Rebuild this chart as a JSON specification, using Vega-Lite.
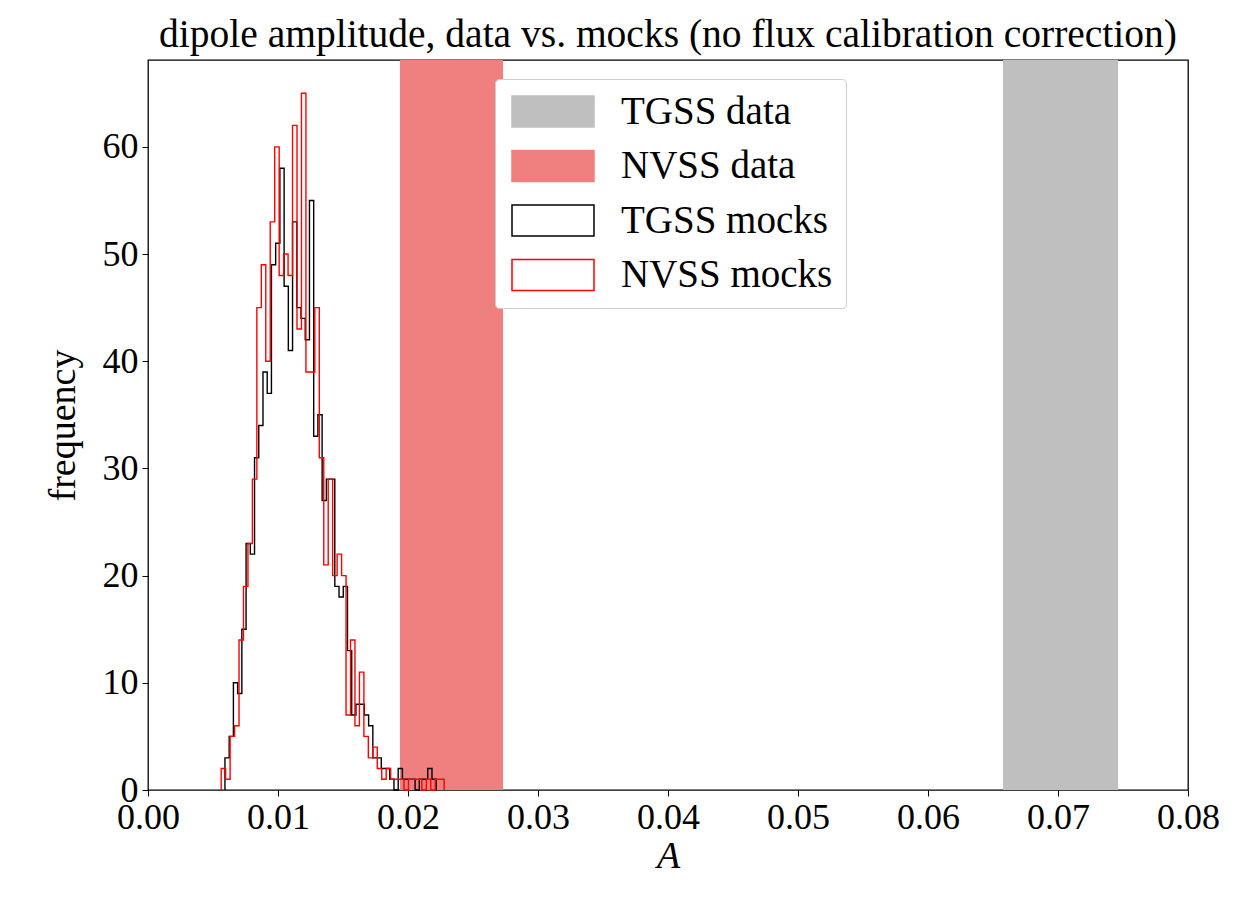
{
  "$schema": "https://vega.github.io/schema/vega-lite/v6.json",
  "width": 1040,
  "height": 730,
  "autosize": {"type": "none"},
  "padding": {"left": 148, "top": 60, "right": 55, "bottom": 111},
  "background": "white",
  "title": {"text": "dipole amplitude, data vs. mocks (no flux calibration correction)", "font": "Liberation Serif", "fontSize": 39.5, "fontWeight": "normal", "color": "black", "offset": 5, "anchor": "middle"},
  "config": {
    "view": {"stroke": "#000000", "strokeWidth": 1.3},
    "axis": {"labelFont": "Liberation Serif", "labelFontSize": 36, "labelColor": "black", "tickColor": "black", "tickSize": 6, "tickWidth": 1, "domain": false, "grid": false, "titleFont": "Liberation Serif", "titleFontSize": 38, "titleFontWeight": "normal", "titleColor": "black", "labelPadding": 4, "labelFlush": false, "labelOverlap": false},
    "legend": {
      "title": null, "orient": "none", "legendX": 347, "legendY": 19,
      "symbolType": "M-1,-1H4.29V1H-1Z", "symbolSize": 961, "symbolStrokeWidth": 1.5,
      "labelFont": "Liberation Serif", "labelFontSize": 39, "labelColor": "black", "labelOffset": 74, "labelLimit": 400,
      "rowPadding": 14.5, "padding": 13, "fillColor": "white", "strokeColor": "#cccccc", "cornerRadius": 4
    }
  },
  "datasets": {
    "bands": [
      {"label": "NVSS data", "lo": 0.01938, "hi": 0.02731},
      {"label": "TGSS data", "lo": 0.06577, "hi": 0.07462}
    ],
    "mocks": [
      {"series": "NVSS mocks", "k": 0, "A": 0.005630, "n": 0},
      {"series": "NVSS mocks", "k": 1, "A": 0.005630, "n": 2},
      {"series": "NVSS mocks", "k": 2, "A": 0.005973, "n": 1},
      {"series": "NVSS mocks", "k": 3, "A": 0.006316, "n": 5},
      {"series": "NVSS mocks", "k": 4, "A": 0.006659, "n": 6},
      {"series": "NVSS mocks", "k": 5, "A": 0.007002, "n": 14},
      {"series": "NVSS mocks", "k": 6, "A": 0.007345, "n": 19},
      {"series": "NVSS mocks", "k": 7, "A": 0.007688, "n": 23},
      {"series": "NVSS mocks", "k": 8, "A": 0.008031, "n": 29},
      {"series": "NVSS mocks", "k": 9, "A": 0.008374, "n": 45},
      {"series": "NVSS mocks", "k": 10, "A": 0.008717, "n": 49},
      {"series": "NVSS mocks", "k": 11, "A": 0.009060, "n": 40},
      {"series": "NVSS mocks", "k": 12, "A": 0.009403, "n": 53},
      {"series": "NVSS mocks", "k": 13, "A": 0.009746, "n": 60},
      {"series": "NVSS mocks", "k": 14, "A": 0.010089, "n": 48},
      {"series": "NVSS mocks", "k": 15, "A": 0.010432, "n": 50},
      {"series": "NVSS mocks", "k": 16, "A": 0.010775, "n": 48},
      {"series": "NVSS mocks", "k": 17, "A": 0.011118, "n": 62},
      {"series": "NVSS mocks", "k": 18, "A": 0.011461, "n": 43},
      {"series": "NVSS mocks", "k": 19, "A": 0.011804, "n": 65},
      {"series": "NVSS mocks", "k": 20, "A": 0.012147, "n": 39},
      {"series": "NVSS mocks", "k": 21, "A": 0.012490, "n": 39},
      {"series": "NVSS mocks", "k": 22, "A": 0.012833, "n": 45},
      {"series": "NVSS mocks", "k": 23, "A": 0.013176, "n": 31},
      {"series": "NVSS mocks", "k": 24, "A": 0.013519, "n": 21},
      {"series": "NVSS mocks", "k": 25, "A": 0.013862, "n": 29},
      {"series": "NVSS mocks", "k": 26, "A": 0.014205, "n": 20},
      {"series": "NVSS mocks", "k": 27, "A": 0.014548, "n": 22},
      {"series": "NVSS mocks", "k": 28, "A": 0.014891, "n": 20},
      {"series": "NVSS mocks", "k": 29, "A": 0.015234, "n": 7},
      {"series": "NVSS mocks", "k": 30, "A": 0.015577, "n": 14},
      {"series": "NVSS mocks", "k": 31, "A": 0.015920, "n": 6},
      {"series": "NVSS mocks", "k": 32, "A": 0.016263, "n": 11},
      {"series": "NVSS mocks", "k": 33, "A": 0.016606, "n": 5},
      {"series": "NVSS mocks", "k": 34, "A": 0.016949, "n": 3},
      {"series": "NVSS mocks", "k": 35, "A": 0.017292, "n": 4},
      {"series": "NVSS mocks", "k": 36, "A": 0.017635, "n": 2},
      {"series": "NVSS mocks", "k": 37, "A": 0.017978, "n": 1},
      {"series": "NVSS mocks", "k": 38, "A": 0.018321, "n": 2},
      {"series": "NVSS mocks", "k": 39, "A": 0.018664, "n": 1},
      {"series": "NVSS mocks", "k": 40, "A": 0.019007, "n": 1},
      {"series": "NVSS mocks", "k": 41, "A": 0.019350, "n": 1},
      {"series": "NVSS mocks", "k": 42, "A": 0.019693, "n": 0},
      {"series": "NVSS mocks", "k": 43, "A": 0.020036, "n": 1},
      {"series": "NVSS mocks", "k": 44, "A": 0.020379, "n": 1},
      {"series": "NVSS mocks", "k": 45, "A": 0.020722, "n": 1},
      {"series": "NVSS mocks", "k": 46, "A": 0.021065, "n": 0},
      {"series": "NVSS mocks", "k": 47, "A": 0.021408, "n": 1},
      {"series": "NVSS mocks", "k": 48, "A": 0.021751, "n": 0},
      {"series": "NVSS mocks", "k": 49, "A": 0.022094, "n": 1},
      {"series": "NVSS mocks", "k": 50, "A": 0.022437, "n": 1},
      {"series": "NVSS mocks", "k": 51, "A": 0.022780, "n": 0},
      {"series": "TGSS mocks", "k": 0, "A": 0.005920, "n": 0},
      {"series": "TGSS mocks", "k": 1, "A": 0.005920, "n": 3},
      {"series": "TGSS mocks", "k": 2, "A": 0.006245, "n": 5},
      {"series": "TGSS mocks", "k": 3, "A": 0.006570, "n": 10},
      {"series": "TGSS mocks", "k": 4, "A": 0.006895, "n": 9},
      {"series": "TGSS mocks", "k": 5, "A": 0.007220, "n": 15},
      {"series": "TGSS mocks", "k": 6, "A": 0.007545, "n": 23},
      {"series": "TGSS mocks", "k": 7, "A": 0.007870, "n": 22},
      {"series": "TGSS mocks", "k": 8, "A": 0.008195, "n": 31},
      {"series": "TGSS mocks", "k": 9, "A": 0.008520, "n": 34},
      {"series": "TGSS mocks", "k": 10, "A": 0.008845, "n": 39},
      {"series": "TGSS mocks", "k": 11, "A": 0.009170, "n": 37},
      {"series": "TGSS mocks", "k": 12, "A": 0.009495, "n": 49},
      {"series": "TGSS mocks", "k": 13, "A": 0.009820, "n": 51},
      {"series": "TGSS mocks", "k": 14, "A": 0.010145, "n": 58},
      {"series": "TGSS mocks", "k": 15, "A": 0.010470, "n": 47},
      {"series": "TGSS mocks", "k": 16, "A": 0.010795, "n": 41},
      {"series": "TGSS mocks", "k": 17, "A": 0.011120, "n": 53},
      {"series": "TGSS mocks", "k": 18, "A": 0.011445, "n": 45},
      {"series": "TGSS mocks", "k": 19, "A": 0.011770, "n": 44},
      {"series": "TGSS mocks", "k": 20, "A": 0.012095, "n": 42},
      {"series": "TGSS mocks", "k": 21, "A": 0.012420, "n": 55},
      {"series": "TGSS mocks", "k": 22, "A": 0.012745, "n": 33},
      {"series": "TGSS mocks", "k": 23, "A": 0.013070, "n": 35},
      {"series": "TGSS mocks", "k": 24, "A": 0.013395, "n": 27},
      {"series": "TGSS mocks", "k": 25, "A": 0.013720, "n": 29},
      {"series": "TGSS mocks", "k": 26, "A": 0.014045, "n": 29},
      {"series": "TGSS mocks", "k": 27, "A": 0.014370, "n": 19},
      {"series": "TGSS mocks", "k": 28, "A": 0.014695, "n": 18},
      {"series": "TGSS mocks", "k": 29, "A": 0.015020, "n": 19},
      {"series": "TGSS mocks", "k": 30, "A": 0.015345, "n": 13},
      {"series": "TGSS mocks", "k": 31, "A": 0.015670, "n": 7},
      {"series": "TGSS mocks", "k": 32, "A": 0.015995, "n": 8},
      {"series": "TGSS mocks", "k": 33, "A": 0.016320, "n": 8},
      {"series": "TGSS mocks", "k": 34, "A": 0.016645, "n": 7},
      {"series": "TGSS mocks", "k": 35, "A": 0.016970, "n": 6},
      {"series": "TGSS mocks", "k": 36, "A": 0.017295, "n": 3},
      {"series": "TGSS mocks", "k": 37, "A": 0.017620, "n": 3},
      {"series": "TGSS mocks", "k": 38, "A": 0.017945, "n": 2},
      {"series": "TGSS mocks", "k": 39, "A": 0.018270, "n": 2},
      {"series": "TGSS mocks", "k": 40, "A": 0.018595, "n": 1},
      {"series": "TGSS mocks", "k": 41, "A": 0.018920, "n": 0},
      {"series": "TGSS mocks", "k": 42, "A": 0.019245, "n": 2},
      {"series": "TGSS mocks", "k": 43, "A": 0.019570, "n": 1},
      {"series": "TGSS mocks", "k": 44, "A": 0.019895, "n": 1},
      {"series": "TGSS mocks", "k": 45, "A": 0.020220, "n": 1},
      {"series": "TGSS mocks", "k": 46, "A": 0.020545, "n": 0},
      {"series": "TGSS mocks", "k": 47, "A": 0.020870, "n": 1},
      {"series": "TGSS mocks", "k": 48, "A": 0.021195, "n": 1},
      {"series": "TGSS mocks", "k": 49, "A": 0.021520, "n": 2},
      {"series": "TGSS mocks", "k": 50, "A": 0.021845, "n": 1},
      {"series": "TGSS mocks", "k": 51, "A": 0.022170, "n": 0}
    ]
  },
  "layer": [
    {
      "data": {"name": "bands"},
      "mark": {"type": "rect"},
      "encoding": {
        "x": {"field": "lo", "type": "quantitative", "scale": {"domain": [0, 0.08], "nice": false, "zero": false}, "axis": {"values": [0, 0.01, 0.02, 0.03, 0.04, 0.05, 0.06, 0.07, 0.08], "format": ".2f", "title": "A", "titleFontStyle": "italic", "titlePadding": 2}},
        "x2": {"field": "hi"},
        "color": {
          "field": "label", "type": "nominal",
          "scale": {"domain": ["TGSS data", "NVSS data", "TGSS mocks", "NVSS mocks"], "range": ["#bfbfbf", "#f08080", "#000000", "#ff0000"]},
          "legend": {
            "encode": {"symbols": {"update": {
              "fillOpacity": {"signal": "indexof(datum.value, 'mocks') >= 0 ? 0 : 1"},
              "strokeOpacity": {"value": 1}
            }}}
          }
        }
      }
    },
    {
      "data": {"name": "mocks"},
      "transform": [{"filter": "datum.series == 'TGSS mocks'"}],
      "mark": {"type": "line", "interpolate": "step-after", "strokeWidth": 1.4},
      "encoding": {
        "x": {"field": "A", "type": "quantitative"},
        "y": {"field": "n", "type": "quantitative", "scale": {"domain": [0, 68.1], "nice": false}, "axis": {"values": [0, 10, 20, 30, 40, 50, 60], "title": "frequency", "titlePadding": 20}},
        "color": {"field": "series", "type": "nominal"},
        "order": {"field": "k", "type": "quantitative"}
      }
    },
    {
      "data": {"name": "mocks"},
      "transform": [{"filter": "datum.series == 'NVSS mocks'"}],
      "mark": {"type": "line", "interpolate": "step-after", "strokeWidth": 1.4},
      "encoding": {
        "x": {"field": "A", "type": "quantitative"},
        "y": {"field": "n", "type": "quantitative"},
        "color": {"field": "series", "type": "nominal"},
        "order": {"field": "k", "type": "quantitative"}
      }
    }
  ]
}
